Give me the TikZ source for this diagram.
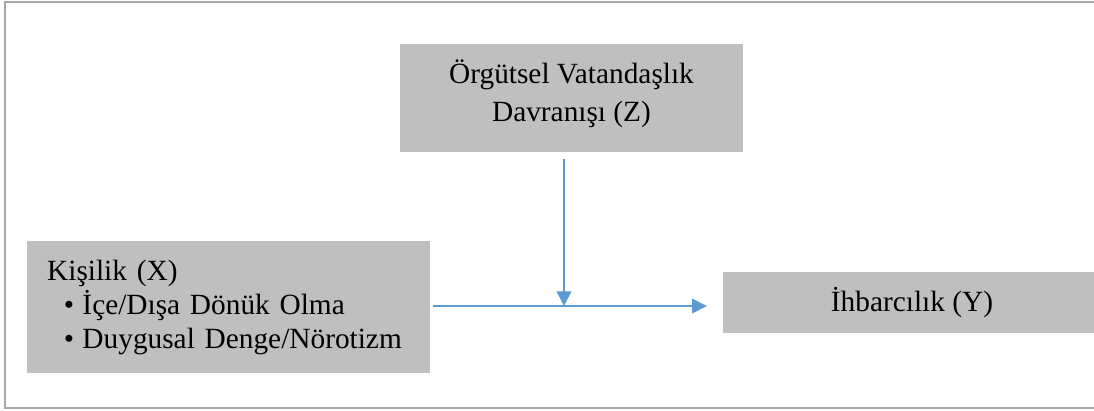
\documentclass[tikz,border=0pt]{standalone}
\usepackage{fontspec}
\setmainfont{Liberation Serif}
\usepackage{tikz}
\usetikzlibrary{positioning,arrows.meta}
\definecolor{boxgray}{HTML}{BFBFBF}
\definecolor{framegray}{HTML}{A6A6A6}
\definecolor{flowblue}{HTML}{5B9BD5}

\begin{document}
\begin{tikzpicture}[
x=0.75pt, y=-0.75pt,
varbox/.style={fill=boxgray, draw=white, line width=0.8pt, inner sep=0pt, align=center},
varlabel/.style={inner sep=0pt, align=center},
flow/.style={draw=flowblue, line width=1.1pt, -{Triangle[length=11pt,width=11pt]}},
]
\useasboundingbox (0,0) rectangle (1094,410);

%Frame
\draw[framegray, line width=1.5pt] (1100,2) -| (5,408) -- (1100,408);

%Moderator
\node[varbox, minimum width=258.75pt, minimum height=82.5pt] (Z) at (571.5,98) {};
\node[varlabel, font=\fontsize{22pt}{28.5pt}\selectfont] (Zlabel) at ([yshift=3.5pt]Z.center)
      {Örgütsel Vatandaşlık\\Davranışı (Z)};

%Independent variable
\node[varbox, align=left, inner xsep=15.75pt, text width=272pt, minimum height=100.5pt,
      font=\fontsize{22pt}{25.5pt}\selectfont] (X) at (228.5,307)
      {Kişilik (X)\\
       \hspace*{12.5pt}\makebox[14pt][l]{•}İçe/Dışa Dönük Olma\\
       \hspace*{12.5pt}\makebox[14pt][l]{•}Duygusal Denge/Nörotizm};

%Dependent variable
\node[varbox, minimum width=285pt, minimum height=47.25pt,
      font=\fontsize{22pt}{25.5pt}\selectfont] (Y) at (912,302.5)
      {İhbarcılık (Y)};

%Connections
\coordinate (joint) at (564,306);
\draw[flow] ([xshift=1.5pt]X.east |- joint) -- ([xshift=-11pt]Y.west |- joint);
\draw[flow] ([yshift=-4pt]Z.south -| joint) -- (joint);
\end{tikzpicture}
\end{document}
